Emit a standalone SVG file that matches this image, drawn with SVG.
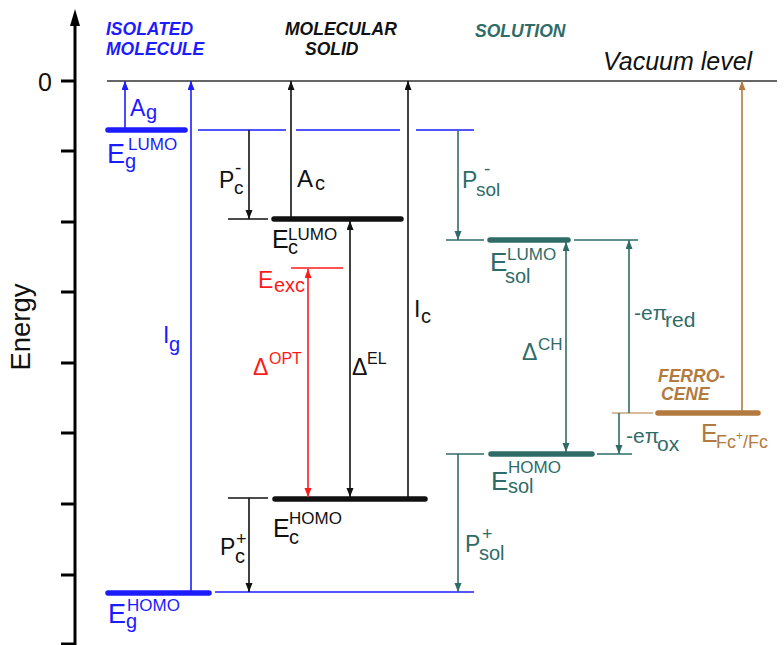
<svg xmlns="http://www.w3.org/2000/svg" width="784" height="645" viewBox="0 0 784 645">
<style>
text{font-family:"Liberation Sans",Arial,sans-serif}
.ttl{font-weight:bold;font-style:italic;font-size:17.5px}
.blue{fill:#1c1cff}.tealf{fill:#2f6c68}.brownf{fill:#b27a3e}.redf{fill:#ff1a1a}.blk{fill:#111}
.thick{stroke-width:5.5;stroke-linecap:round;fill:none}
.thin{stroke-width:1.3;fill:none}
.arr{stroke-width:1.6;fill:none}
</style>
<defs>
<marker id="hk" markerUnits="userSpaceOnUse" markerWidth="10" markerHeight="8" refX="9" refY="3.5" orient="auto-start-reverse"><path d="M0,0 L9,3.5 L0,7 z" fill="#111"/></marker>
<marker id="hb" markerUnits="userSpaceOnUse" markerWidth="10" markerHeight="8" refX="9" refY="3.5" orient="auto-start-reverse"><path d="M0,0 L9,3.5 L0,7 z" fill="#1c1cff"/></marker>
<marker id="ht" markerUnits="userSpaceOnUse" markerWidth="10" markerHeight="8" refX="9" refY="3.5" orient="auto-start-reverse"><path d="M0,0 L9,3.5 L0,7 z" fill="#2f6c68"/></marker>
<marker id="hr" markerUnits="userSpaceOnUse" markerWidth="10" markerHeight="8" refX="9" refY="3.5" orient="auto-start-reverse"><path d="M0,0 L9,3.5 L0,7 z" fill="#ff1a1a"/></marker>
<marker id="hn" markerUnits="userSpaceOnUse" markerWidth="10" markerHeight="8" refX="9" refY="3.5" orient="auto-start-reverse"><path d="M0,0 L9,3.5 L0,7 z" fill="#b27a3e"/></marker>
</defs>
<rect width="784" height="645" fill="#fff"/>

<g id="axis">
<line x1="75" y1="645" x2="75" y2="22" stroke="#000" stroke-width="3"/>
<path d="M70,26 L75,9 L80,26 z" fill="#000"/>
<g stroke="#000" stroke-width="3">
<line x1="61" y1="81" x2="75" y2="81"/><line x1="61" y1="151" x2="75" y2="151"/><line x1="61" y1="222" x2="75" y2="222"/><line x1="61" y1="292" x2="75" y2="292"/><line x1="61" y1="363" x2="75" y2="363"/><line x1="61" y1="433" x2="75" y2="433"/><line x1="61" y1="504" x2="75" y2="504"/><line x1="61" y1="575" x2="75" y2="575"/><line x1="61" y1="644" x2="75" y2="644"/>
</g>
<text x="38" y="91" font-size="25" fill="#111">0</text>
<text x="30" y="327" font-size="27.5" fill="#111" text-anchor="middle" transform="rotate(-90 30 327)">Energy</text>
</g>

<g id="vacuum">
<line x1="107" y1="81" x2="777" y2="81" stroke="#333" stroke-width="1.4"/>
<text x="603" y="70" font-size="25" font-style="italic" fill="#111">Vacuum level</text>
</g>

<g id="titles">
<text class="ttl blue" x="106" y="35">ISOLATED</text>
<text class="ttl blue" x="106" y="55">MOLECULE</text>
<text class="ttl blk" x="285" y="35">MOLECULAR</text>
<text class="ttl blk" x="305" y="55">SOLID</text>
<text class="ttl tealf" x="475" y="37">SOLUTION</text>
</g>

<g id="Eg-LUMO">
<line class="thick" x1="108" y1="130" x2="185" y2="130" stroke="#1c1cff"/>
<path class="thin" d="M198,130 H286 M296,130 H400 M416,130 H474" stroke="#1c1cff"/>
<text class="blue"><tspan x="107" y="163" font-size="27">E</tspan><tspan x="125" y="168" font-size="20">g</tspan><tspan x="128" y="150" font-size="17">LUMO</tspan></text>
</g>

<g id="Eg-HOMO">
<line class="thick" x1="108" y1="593" x2="209" y2="593" stroke="#1c1cff"/>
<line class="thin" x1="215" y1="592" x2="474" y2="592" stroke="#1c1cff"/>
<text class="blue"><tspan x="108" y="623" font-size="27">E</tspan><tspan x="126" y="628" font-size="20">g</tspan><tspan x="127" y="611" font-size="17">HOMO</tspan></text>
</g>

<g id="Ec-LUMO">
<line class="thick" x1="274" y1="219" x2="401" y2="219" stroke="#111"/>
<line class="thin" x1="228" y1="219" x2="268" y2="219" stroke="#111"/>
<text class="blk"><tspan x="272" y="248" font-size="25">E</tspan><tspan x="288" y="254" font-size="20">c</tspan><tspan x="288" y="240" font-size="17">LUMO</tspan></text>
</g>

<g id="Ec-HOMO">
<line class="thick" x1="275" y1="499" x2="425" y2="499" stroke="#111"/>
<line class="thin" x1="228" y1="498" x2="268" y2="498" stroke="#111"/>
<text class="blk"><tspan x="273" y="537" font-size="25">E</tspan><tspan x="289" y="544" font-size="20">c</tspan><tspan x="289" y="524" font-size="17">HOMO</tspan></text>
</g>

<g id="Eexc">
<line x1="291" y1="268" x2="343" y2="268" stroke="#ff1a1a" stroke-width="1.6"/>
<text class="redf"><tspan x="258" y="288" font-size="23">E</tspan><tspan x="274" y="292" font-size="20">exc</tspan></text>
</g>

<g id="Esol-LUMO">
<line class="thick" x1="490" y1="240" x2="568" y2="240" stroke="#2f6c68"/>
<path class="thin" d="M446,240 H484 M574,240 H638" stroke="#2f6c68"/>
<text class="tealf"><tspan x="490" y="271" font-size="26">E</tspan><tspan x="505" y="283" font-size="20">sol</tspan><tspan x="507" y="260" font-size="17">LUMO</tspan></text>
</g>

<g id="Esol-HOMO">
<line class="thick" x1="491" y1="454" x2="592" y2="454" stroke="#2f6c68"/>
<path class="thin" d="M446,454 H484 M597,454 H632" stroke="#2f6c68"/>
<text class="tealf"><tspan x="491" y="490" font-size="26">E</tspan><tspan x="508" y="493" font-size="20">sol</tspan><tspan x="508" y="473" font-size="17">HOMO</tspan></text>
</g>

<g id="ferrocene">
<line x1="612" y1="413" x2="653" y2="413" stroke="#c9a47c" stroke-width="1.3"/>
<line class="thick" x1="658" y1="413" x2="758" y2="413" stroke="#b27a3e"/>
<text class="ttl brownf" x="658" y="382">FERRO-</text>
<text class="ttl brownf" x="661" y="400">CENE</text>
<text class="brownf"><tspan x="701" y="442" font-size="25">E</tspan><tspan x="716" y="448" font-size="18">Fc</tspan><tspan font-size="12" dy="-8">+</tspan><tspan font-size="18" dy="8">/Fc</tspan></text>
</g>

<g id="connectors">
<line class="arr" x1="125" y1="128" x2="125" y2="81" stroke="#1c1cff" marker-end="url(#hb)"/>
<line class="arr" x1="191" y1="592" x2="191" y2="81" stroke="#1c1cff" stroke-width="2" marker-end="url(#hb)"/>
<line class="arr" x1="249" y1="130" x2="249" y2="219" stroke="#111" marker-end="url(#hk)"/>
<line class="arr" x1="249" y1="498" x2="249" y2="592" stroke="#111" marker-end="url(#hk)"/>
<line class="arr" x1="291" y1="217" x2="291" y2="81" stroke="#111" marker-end="url(#hk)"/>
<line class="arr" x1="408" y1="497" x2="408" y2="81" stroke="#111" marker-end="url(#hk)"/>
<line class="arr" x1="350" y1="221" x2="350" y2="497" stroke="#111" marker-start="url(#hk)" marker-end="url(#hk)"/>
<line class="arr" x1="308" y1="269" x2="308" y2="497" stroke="#ff1a1a" stroke-width="1.8" marker-start="url(#hr)" marker-end="url(#hr)"/>
<line class="arr" x1="458" y1="130" x2="458" y2="240" stroke="#2f6c68" marker-end="url(#ht)"/>
<line class="arr" x1="458" y1="454" x2="458" y2="592" stroke="#2f6c68" marker-end="url(#ht)"/>
<line class="arr" x1="566" y1="242" x2="566" y2="452" stroke="#2f6c68" stroke-width="1.8" marker-start="url(#ht)" marker-end="url(#ht)"/>
<line class="arr" x1="629" y1="413" x2="629" y2="240" stroke="#2f6c68" marker-end="url(#ht)"/>
<line class="arr" x1="619" y1="413" x2="619" y2="454" stroke="#2f6c68" marker-end="url(#ht)"/>
<line class="arr" x1="742" y1="411" x2="742" y2="81" stroke="#b27a3e" stroke-width="1.8" marker-end="url(#hn)"/>
</g>

<g id="connector-labels">
<text class="blue"><tspan x="130" y="116" font-size="23">A</tspan><tspan x="146" y="119" font-size="20">g</tspan></text>
<text class="blue"><tspan x="163" y="343" font-size="23">I</tspan><tspan x="169" y="351" font-size="20">g</tspan></text>
<text class="blk"><tspan x="219" y="188" font-size="23">P</tspan><tspan x="234" y="194" font-size="19">c</tspan><tspan x="235" y="174" font-size="19">-</tspan></text>
<text class="blk"><tspan x="220" y="555" font-size="23">P</tspan><tspan x="235" y="563" font-size="20">c</tspan><tspan x="236" y="545" font-size="18">+</tspan></text>
<text class="blk"><tspan x="297" y="187" font-size="24">A</tspan><tspan x="315" y="190" font-size="20">c</tspan></text>
<text class="blk"><tspan x="414" y="317" font-size="23">I</tspan><tspan x="421" y="323" font-size="20">c</tspan></text>
<text class="blk"><tspan x="352" y="375" font-size="23">Δ</tspan><tspan x="367" y="364" font-size="16">EL</tspan></text>
<text class="redf"><tspan x="253" y="375" font-size="23">Δ</tspan><tspan x="269" y="364" font-size="16">OPT</tspan></text>
<text class="tealf"><tspan x="462" y="188" font-size="23">P</tspan><tspan x="476" y="196" font-size="19">sol</tspan><tspan x="484" y="175" font-size="19">-</tspan></text>
<text class="tealf"><tspan x="465" y="552" font-size="23">P</tspan><tspan x="479" y="560" font-size="20">sol</tspan><tspan x="482" y="540" font-size="18">+</tspan></text>
<text class="tealf"><tspan x="522" y="360" font-size="23">Δ</tspan><tspan x="538" y="350" font-size="17">CH</tspan></text>
<text class="tealf"><tspan x="634" y="320" font-size="21">-eπ</tspan><tspan x="665" y="327" font-size="21">red</tspan></text>
<text class="tealf"><tspan x="626" y="443" font-size="21">-eπ</tspan><tspan x="657" y="451" font-size="21">ox</tspan></text>
</g>
</svg>
